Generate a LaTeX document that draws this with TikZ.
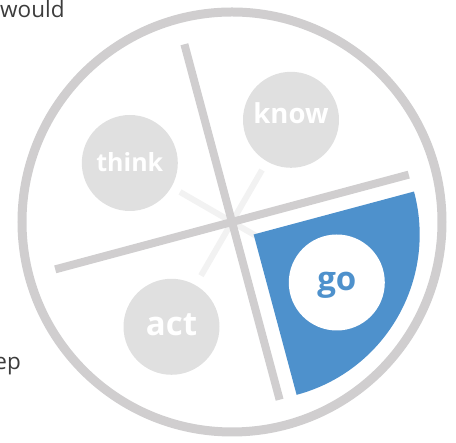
\documentclass[tikz,border=0pt]{standalone}
\usepackage{fontspec}
\usetikzlibrary{calc}
\setmainfont{Open Sans}
\definecolor{ring}{RGB}{208,206,207}
\definecolor{bub}{RGB}{224,224,224}
\definecolor{faint}{RGB}{242,242,242}
\definecolor{goblue}{RGB}{78,145,204}
\definecolor{txt}{RGB}{60,60,60}
\tikzset{
  bubble/.style={circle,fill=bub,minimum size=96pt,inner sep=0pt},
  lbl/.style={text=white,font=\bfseries,anchor=base,inner sep=0pt},
  crossline/.style={draw=ring,line width=8pt},
  faintline/.style={draw=faint,line width=6pt},
}
\begin{document}
\begin{tikzpicture}[x=1pt,y=1pt]
\useasboundingbox (0,0) rectangle (456,443);
\coordinate (C) at (232,221);
% outer ring
\draw[ring,line width=9pt] (C) circle[radius=210];
% faint bisector lines
\coordinate (f1) at ($(C)+(150:60)$);
\coordinate (f2) at ($(C)+(-30:60)$);
\coordinate (f3) at ($(C)+(60:60)$);
\coordinate (f4) at ($(C)+(240:62)$);
\draw[faintline] (f1) -- (f2);
\draw[faintline] (f3) -- (f4);
% cross lines
\coordinate (hL) at ($(C)+(195:183)$);
\coordinate (hR) at ($(C)+(15:183)$);
\coordinate (vT) at ($(C)+(105:184)$);
\coordinate (vB) at ($(C)+(-75:184)$);
\draw[crossline] (hL) -- (hR);
\draw[crossline] (vT) -- (vB);
% exploded blue sector
\coordinate (A) at ($(C)+(-30:25)$);
\fill[goblue] (A) -- ++(15:166) arc[start angle=15,end angle=-75,radius=166] -- cycle;
% bubbles
\node[bubble] (think) at ($(C)+(150:118)$) {};
\node[bubble] (know) at ($(C)+(60:118)$) {};
\node[bubble] (act) at ($(C)+(240:121)$) {};
\node[bubble,fill=white] (go) at ($(C)+(-30:121)$) {};
\node[lbl,font=\bfseries\fontsize{25}{30}\selectfont] (tthink) at ($(think)+(0,-8.5)$) {think};
\node[lbl,font=\bfseries\fontsize{27.5}{33}\selectfont] (tknow) at ($(know)+(0,-3.5)$) {know};
\node[lbl,font=\bfseries\fontsize{33}{40}\selectfont] (tact) at ($(act)+(0,-9)$) {act};
\node[lbl,text=goblue,font=\bfseries\fontsize{33}{40}\selectfont] (tgo) at ($(go)+(0,-8)$) {go};
% cut-off page text
\node[anchor=base west,inner sep=0pt,text=txt,font=\fontsize{22.5}{27}\selectfont] (would) at (0,425) {would};
\node[anchor=base east,inner sep=0pt,text=txt,font=\fontsize{22.5}{27}\selectfont] (ep) at (21,73) {ep};
\end{tikzpicture}
\end{document}
